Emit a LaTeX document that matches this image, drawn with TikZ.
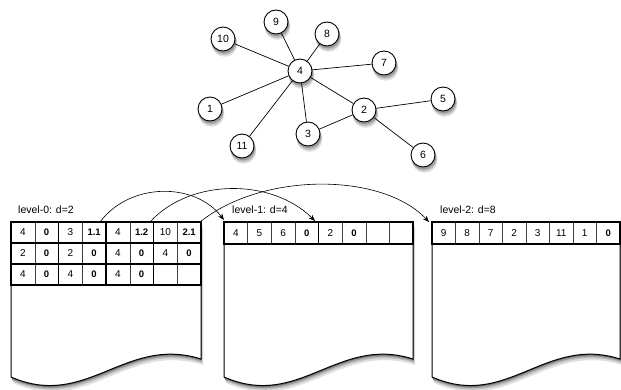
\documentclass[tikz,border=0pt]{standalone}
\usepackage{fontspec}
\setmainfont{Liberation Sans}
\usetikzlibrary{arrows.meta}
\tikzset{
  gnode/.style={circle,draw=black,line width=0.9pt,fill=white,minimum size=24pt,
    inner sep=0pt,font=\fontsize{10.5}{12}\selectfont},
  gedge/.style={line width=0.7pt},
  docshape/.style={draw=black,line width=1pt,fill=white},
  thickline/.style={line width=1.8pt},
  thinline/.style={line width=0.5pt,draw=black!75},
  cell/.style={font=\fontsize{10}{11}\selectfont,inner sep=0pt},
  bcell/.style={font=\bfseries\fontsize{9.5}{11}\selectfont,inner sep=0pt},
  lvl/.style={font=\fontsize{10.5}{12}\selectfont,anchor=base west,inner sep=0pt},
  linkarrow/.style={-{Stealth[length=6.5pt,width=5pt]},line width=0.6pt},
  shade1/.style={fill=black!12,draw=none},
  shade2/.style={fill=black!25,draw=none},
  shade3/.style={fill=black!40,draw=none},
  shade4/.style={fill=black!58,draw=none},
}
\begin{document}
\begin{tikzpicture}[x=1pt,y=-1pt]
\useasboundingbox (0,0) rectangle (621,389);

% ---------------- graph: shadows ----------------
\path[shade1] (301.6,76) circle[radius=12.8pt] (211.6,114) circle[radius=12.8pt]
  (365.6,115) circle[radius=12.8pt] (309.6,139) circle[radius=12.8pt]
  (444.6,104) circle[radius=12.8pt] (424.6,160) circle[radius=12.8pt]
  (385.6,68) circle[radius=12.8pt] (328.6,39) circle[radius=12.8pt]
  (277.6,27) circle[radius=12.8pt] (224.6,44) circle[radius=12.8pt]
  (243.6,151) circle[radius=12.8pt];
\path[shade2] (301.2,74.5) circle[radius=12.6pt] (211.2,112.5) circle[radius=12.6pt]
  (365.2,113.5) circle[radius=12.6pt] (309.2,137.5) circle[radius=12.6pt]
  (444.2,102.5) circle[radius=12.6pt] (424.2,158.5) circle[radius=12.6pt]
  (385.2,66.5) circle[radius=12.6pt] (328.2,37.5) circle[radius=12.6pt]
  (277.2,25.5) circle[radius=12.6pt] (224.2,42.5) circle[radius=12.6pt]
  (243.2,149.5) circle[radius=12.6pt];
\path[shade3] (300.8,73) circle[radius=12.4pt] (210.8,111) circle[radius=12.4pt]
  (364.8,112) circle[radius=12.4pt] (308.8,136) circle[radius=12.4pt]
  (443.8,101) circle[radius=12.4pt] (423.8,157) circle[radius=12.4pt]
  (384.8,65) circle[radius=12.4pt] (327.8,36) circle[radius=12.4pt]
  (276.8,24) circle[radius=12.4pt] (223.8,41) circle[radius=12.4pt]
  (242.8,148) circle[radius=12.4pt];

\node[gnode] (n4) at (300,71) {4};
\node[gnode] (n1) at (210,109) {1};
\node[gnode] (n2) at (364,110) {2};
\node[gnode] (n3) at (308,134) {3};
\node[gnode] (n5) at (443,99) {5};
\node[gnode] (n6) at (423,155) {6};
\node[gnode] (n7) at (384,63) {7};
\node[gnode] (n8) at (327,34) {8};
\node[gnode] (n9) at (276,22) {9};
\node[gnode] (n10) at (223,39) {10};
\node[gnode] (n11) at (242,146) {11};
\foreach \a/\b in {n4/n9,n4/n10,n4/n8,n4/n7,n4/n1,n4/n11,n4/n3,n4/n2,n2/n3,n2/n5,n2/n6}
  \draw[gedge] (\a) -- (\b);

% ---------------- documents ----------------
\foreach \x/\w in {11/190,224/189,432/188}{
  \path[shade1] ({\x+2},228) -- ({\x+\w+2},228) -- ({\x+\w+2},365)
     .. controls ({\x+0.6*\w+2},341) and ({\x+0.4*\w+2},416) .. ({\x+2},383) -- cycle;
  \path[shade2] ({\x+1.3},226) -- ({\x+\w+1.3},226) -- ({\x+\w+1.3},363)
     .. controls ({\x+0.6*\w+1.3},339) and ({\x+0.4*\w+1.3},414) .. ({\x+1.3},381) -- cycle;
  \path[shade3] ({\x+0.8},224.5) -- ({\x+\w+0.8},224.5) -- ({\x+\w+0.8},361.5)
     .. controls ({\x+0.6*\w+0.8},337.5) and ({\x+0.4*\w+0.8},412.5) .. ({\x+0.8},379.5) -- cycle;
  \path[shade4] ({\x+0.4},223.2) -- ({\x+\w+0.4},223.2) -- ({\x+\w+0.4},360.2)
     .. controls ({\x+0.6*\w+0.4},336.2) and ({\x+0.4*\w+0.4},411.2) .. ({\x+0.4},378.2) -- cycle;
  \path[docshape] (\x,222) -- ({\x+\w},222) -- ({\x+\w},359)
     .. controls ({\x+0.6*\w},335) and ({\x+0.4*\w},410) .. (\x,377) -- cycle;
}

% ---------------- level-0 table ----------------
\foreach \c/\t/\s in {0/4/cell,1/0/bcell,2/3/cell,3/1.1/bcell,4/4/cell,5/1.2/bcell,6/10/cell,7/2.1/bcell}
  \node[\s] (a0\c) at ({11+23.75*(\c+0.5)},232.5) {\t};
\foreach \c/\t/\s in {0/2/cell,1/0/bcell,2/2/cell,3/0/bcell,4/4/cell,5/0/bcell,6/4/cell,7/0/bcell}
  \node[\s] (a1\c) at ({11+23.75*(\c+0.5)},253.5) {\t};
\foreach \c/\t/\s in {0/4/cell,1/0/bcell,2/4/cell,3/0/bcell,4/4/cell,5/0/bcell}
  \node[\s] (a2\c) at ({11+23.75*(\c+0.5)},274.5) {\t};
\foreach \c in {1,3,5,7}
  \draw[thinline] ({11+23.75*\c},222) -- ({11+23.75*\c},285);
\foreach \c in {2,4,6}
  \draw[thickline] ({11+23.75*\c},222) -- ({11+23.75*\c},285);
\draw[thickline] (11,243) -- (201,243);
\draw[thickline] (11,264) -- (201,264);
\draw[thickline] (11,222) rectangle (201,285);

% ---------------- level-1 table ----------------
\foreach \c/\t/\s in {0/4/cell,1/5/cell,2/6/cell,3/0/bcell,4/2/cell,5/0/bcell}
  \node[\s] (b0\c) at ({224+23.625*(\c+0.5)},233) {\t};
\foreach \c in {1,2,3,5,6,7}
  \draw[thinline] ({224+23.625*\c},222) -- ({224+23.625*\c},244);
\draw[thickline] ({224+23.625*4},222) -- ({224+23.625*4},244);
\draw[thickline] (224,222) rectangle (413,244);

% ---------------- level-2 table ----------------
\foreach \c/\t/\s in {0/9/cell,1/8/cell,2/7/cell,3/2/cell,4/3/cell,5/11/cell,6/1/cell,7/0/bcell}
  \node[\s] (c0\c) at ({432+23.5*(\c+0.5)},233) {\t};
\foreach \c in {1,...,7}
  \draw[thinline] ({432+23.5*\c},222) -- ({432+23.5*\c},244);
\draw[thickline] (432,222) rectangle (620,244);

% ---------------- labels ----------------
\node[lvl] (l0) at (18,213) {level-0: d=2};
\node[lvl] (l1) at (232,213) {level-1: d=4};
\node[lvl] (l2) at (440,213) {level-2: d=8};

% ---------------- arrows ----------------
\coordinate (sA) at (100,222);
\coordinate (sB) at (150,222);
\coordinate (sC) at (200,222);
\coordinate (eA) at (224,220);
\coordinate (eB) at (315,221);
\coordinate (eC) at (429,222);
\draw[linkarrow] (sA) .. controls (130,182) and (195,182) .. (eA);
\draw[linkarrow] (sB) .. controls (190,178) and (272,178) .. (eB);
\draw[linkarrow] (sC) .. controls (262,172) and (382,172) .. (eC);
\end{tikzpicture}
\end{document}
